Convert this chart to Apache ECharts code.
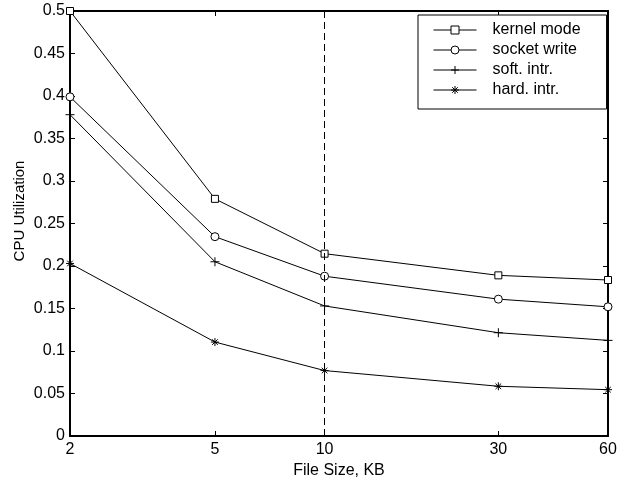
<!DOCTYPE html>
<html>
<head>
<meta charset="utf-8">
<script src="https://cdn.jsdelivr.net/npm/echarts@6/dist/echarts.min.js"></script>
<style>
  html, body { margin: 0; padding: 0; background: #fff; }
  #chart { width: 620px; height: 481px; }
</style>
</head>
<body>
<div id="chart"></div>
<script>
// file sizes in KB (log x axis)
var fileSizes = [2, 5, 10, 30, 60];
var xTicks = [2, 5, 10, 30, 60];

var kernelMode = [0.500, 0.279, 0.2145, 0.189, 0.1835];
var socketWrite = [0.399, 0.2345, 0.188, 0.161, 0.152];
var softIntr = [0.378, 0.205, 0.153, 0.1215, 0.1125];
var hardIntr = [0.203, 0.1105, 0.077, 0.0585, 0.0545];

var dashedAt = 10;

var PLUS = 'path://M0,5L10,5M5,0L5,10';
var STAR = 'path://M0,5L10,5M5,0L5,10M1.5,1.5L8.5,8.5M8.5,1.5L1.5,8.5';

function pairs(vals) {
    return fileSizes.map(function (x, i) { return [x, vals[i]]; });
}

var font = 'Liberation Sans, Arial, Helvetica, sans-serif';

function makeSeries(name, vals, symbol, size, fill) {
    return {
        name: name,
        type: 'line',
        data: pairs(vals),
        symbol: symbol,
        symbolSize: size,
        showAllSymbol: true,
        lineStyle: { color: '#000', width: 1 },
        itemStyle: { color: fill, borderColor: '#000', borderWidth: 1 },
        emphasis: { disabled: true },
        z: 3
    };
}

var series = [
    makeSeries('kernel mode', kernelMode, 'rect', 7, '#fff'),
    makeSeries('socket write', socketWrite, 'circle', 8, '#fff'),
    makeSeries('soft. intr.', softIntr, PLUS, 9, 'rgba(0,0,0,0)'),
    makeSeries('hard. intr.', hardIntr, STAR, 8, 'rgba(0,0,0,0)')
];
series[0].markLine = {
    silent: true,
    symbol: ['none', 'none'],
    label: { show: false },
    lineStyle: { color: '#000', width: 1, type: [7, 4] },
    data: [{ xAxis: dashedAt }]
};

var axisLine = { show: true, onZero: false, lineStyle: { color: '#000', width: 2 } };

var option = {
    backgroundColor: '#fff',
    animation: false,
    textStyle: { fontFamily: font },
    grid: { left: 70, right: 12, top: 11, bottom: 45, outerBoundsMode: 'none', containLabel: false },
    legend: {
        orient: 'vertical',
        left: 418,
        top: 15,
        padding: [7, 26, 11, 15],
        itemGap: 4,
        itemWidth: 43,
        itemHeight: 10,
        borderColor: '#000',
        borderWidth: 1,
        borderRadius: 0,
        backgroundColor: '#fff',
        lineStyle: { width: 1, color: '#000' },
        itemStyle: { borderWidth: 1, borderColor: '#000' },
        textStyle: { fontSize: 16, color: '#000', lineHeight: 14, padding: [0, 0, 0, 11], fontFamily: font },
        data: ['kernel mode', 'socket write', 'soft. intr.', 'hard. intr.']
    },
    xAxis: [{
        type: 'log',
        logBase: 10,
        min: 2,
        max: 60,
        name: 'File Size, KB',
        nameLocation: 'middle',
        nameGap: 27,
        nameMoveOverlap: false,
        nameTextStyle: { fontSize: 16, color: '#000', fontFamily: font },
        axisLine: axisLine,
        axisTick: { show: true, inside: true, length: 5, customValues: xTicks, lineStyle: { color: '#000' } },
        axisLabel: { customValues: xTicks, fontSize: 16, color: '#000', margin: 6, fontFamily: font },
        splitLine: { show: false },
        minorTick: { show: false }
    }, {
        type: 'log',
        logBase: 10,
        min: 2,
        max: 60,
        position: 'top',
        axisLine: axisLine,
        axisTick: { show: true, inside: true, length: 5, customValues: xTicks, lineStyle: { color: '#000' } },
        axisLabel: { show: false },
        splitLine: { show: false }
    }],
    yAxis: [{
        type: 'value',
        min: 0,
        max: 0.5,
        interval: 0.05,
        name: 'CPU Utilization',
        nameLocation: 'middle',
        nameGap: 43,
        nameMoveOverlap: false,
        nameTextStyle: { fontSize: 15, color: '#000', fontFamily: font, padding: [0, 0, 0, 25] },
        axisLine: axisLine,
        axisTick: { show: true, inside: true, length: 5, lineStyle: { color: '#000' } },
        axisLabel: { fontSize: 16, color: '#000', margin: 5, fontFamily: font },
        splitLine: { show: false }
    }, {
        type: 'value',
        min: 0,
        max: 0.5,
        interval: 0.05,
        position: 'right',
        axisLine: axisLine,
        axisTick: { show: true, inside: true, length: 5, lineStyle: { color: '#000' } },
        axisLabel: { show: false },
        splitLine: { show: false }
    }],
    series: series
};

var chart = echarts.init(document.getElementById('chart'), null, { renderer: 'canvas' });
chart.setOption(option);
</script>
</body>
</html>
